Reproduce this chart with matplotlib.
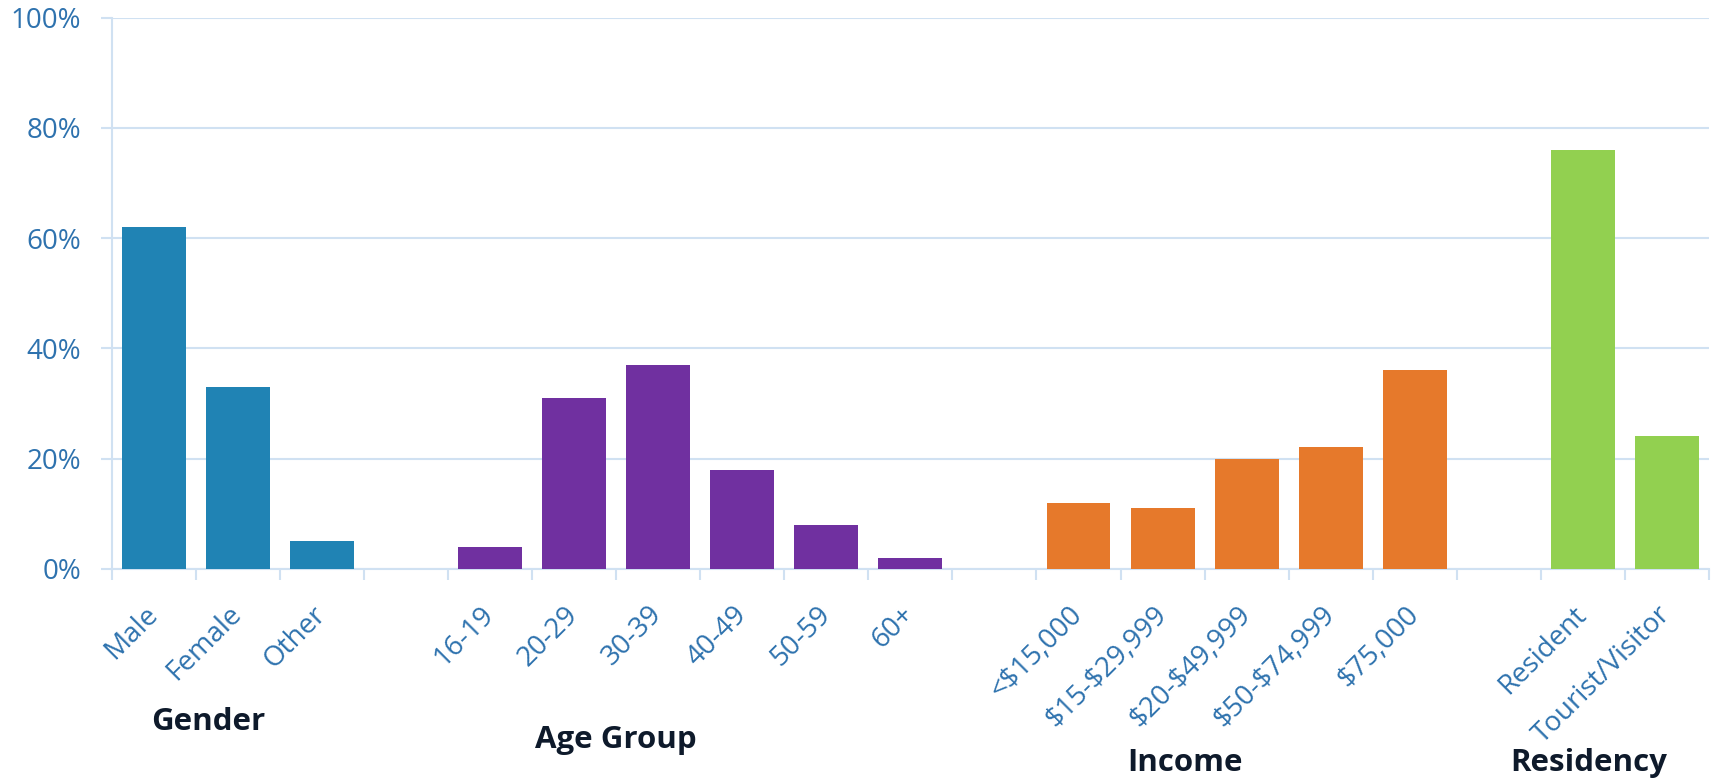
import matplotlib
matplotlib.use('Agg')
import matplotlib.pyplot as plt
from matplotlib.ticker import FixedLocator

# ---- data ----
gender_labels = ['Male', 'Female', 'Other']
gender_values = [62, 33, 5]
age_labels = ['16-19', '20-29', '30-39', '40-49', '50-59', '60+']
age_values = [4, 31, 37, 18, 8, 2]
income_labels = ['<$15,000', '$15-$29,999', '$20-$49,999', '$50-$74,999', '$75,000']
income_values = [12, 11, 20, 22, 36]
residency_labels = ['Resident', 'Tourist/Visitor']
residency_values = [76, 24]
group_titles = ['Gender', 'Age Group', 'Income', 'Residency']
y_ticks = [0, 20, 40, 60, 80, 100]

# ---- style ----
group_colors = ['#2083B4', '#7030A0', '#E6792B', '#92D050']
tick_color = '#2E72AE'
grid_color = '#D0E1F2'
title_color = '#0E1A2B'
plt.rcParams['font.family'] = ['Open Sans', 'DejaVu Sans']

W, H = 1716, 783
fig = plt.figure(figsize=(W / 100, H / 100), dpi=100)
ax = fig.add_axes([111.7 / W, 1 - 568.7 / H, (1709 - 111.7) / W, (568.7 - 17.7) / H])

groups = [(gender_labels, gender_values), (age_labels, age_values),
          (income_labels, income_values), (residency_labels, residency_values)]

positions, labels = [], []
pos = 0
for (labs, vals), col in zip(groups, group_colors):
    xs = list(range(pos, pos + len(labs)))
    ax.bar(xs, vals, width=0.76, color=col, zorder=3)
    positions += xs
    labels += labs
    pos += len(labs) + 1
n_slots = pos - 1

ax.set_xlim(-0.5, n_slots - 0.5)
ax.set_ylim(0, 100)

# y axis
ax.set_yticks(y_ticks)
ax.set_yticklabels([f'{v}%' for v in y_ticks])
ax.yaxis.grid(True, color=grid_color, linewidth=1.5, zorder=0)
ax.tick_params(axis='y', colors=grid_color, labelcolor=tick_color, labelsize=20,
               length=8, width=1.5, pad=14)

# x axis
ax.set_xticks(positions)
ax.set_xticklabels([l.replace('$', r'\$') for l in labels], rotation=45,
                   ha='right', va='center', rotation_mode='anchor')
ax.tick_params(axis='x', which='major', length=0, labelcolor=tick_color,
               labelsize=20, pad=30)
ax.xaxis.set_minor_locator(FixedLocator([i - 0.5 for i in range(n_slots + 1)]))
ax.tick_params(axis='x', which='minor', length=8, width=1.5, color=grid_color)

for s in ['top', 'right']:
    ax.spines[s].set_visible(False)
for s in ['left', 'bottom']:
    ax.spines[s].set_color(grid_color)
    ax.spines[s].set_linewidth(1.5)

# group titles
title_pos = [(208, 722), (616, 740), (1185, 763), (1589, 763)]
for t, (px, py) in zip(group_titles, title_pos):
    fig.text(px / W, 1 - py / H, t, ha='center', va='center', fontsize=22.5,
             fontweight='bold', color=title_color)

fig.savefig('out.png', dpi=100)
